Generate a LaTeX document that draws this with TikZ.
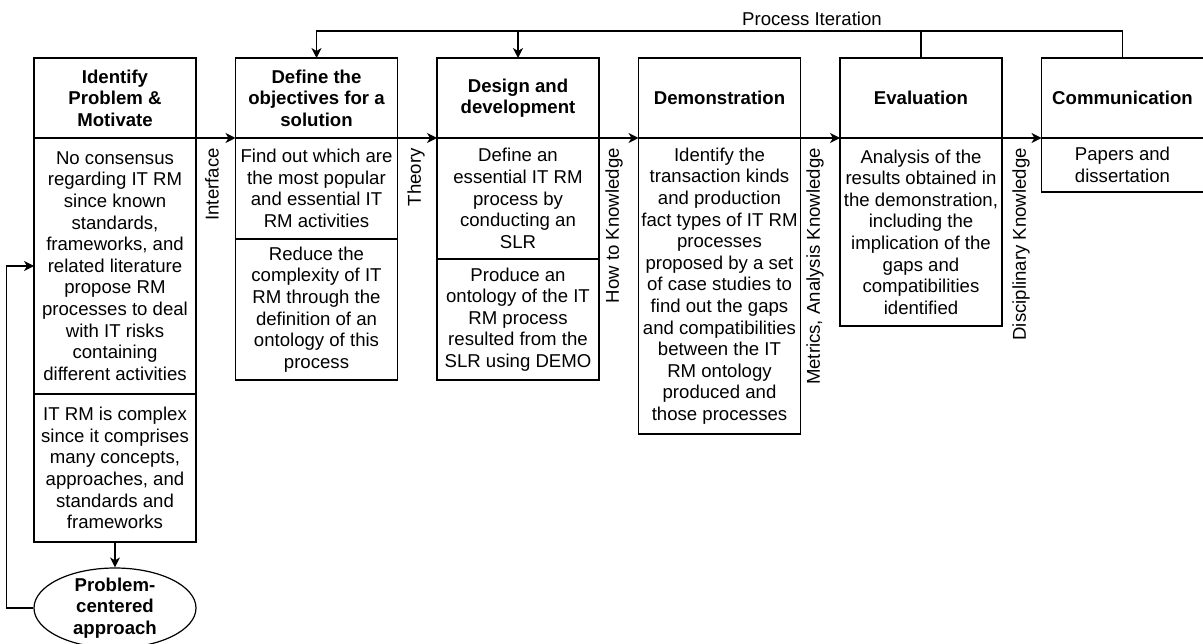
\documentclass[tikz,border=0pt]{standalone}
\usepackage{fontspec}
\setmainfont{Liberation Sans}
\usetikzlibrary{positioning,shapes.geometric,arrows.meta}

\begin{document}
\begin{tikzpicture}[x=1pt, y=-1pt, node distance=0pt and 39.5pt,
    box/.style={draw, rectangle, line width=1.2pt, minimum width=162pt, inner sep=0pt, outer sep=0pt, align=center, font=\fontsize{18.6}{21.6}\selectfont},
    head/.style={box, minimum height=80pt, font=\fontsize{18.6}{21.6}\selectfont\bfseries},
    vlabel/.style={rotate=90, anchor=east, inner sep=0pt, font=\fontsize{18.6}{21.6}\selectfont},
    arr/.style={-{Stealth[length=10pt, width=10pt, inset=3pt]}, line width=1.2pt}]
    \useasboundingbox (0,0) rectangle (1203,644);

    % headers
    \node[head] (identify) at (115,98) {Identify\\Problem \&\\Motivate};
    \node[head, right=of identify] (objectives) {Define the\\objectives for a\\solution};
    \node[head, right=of objectives] (design) {Design and\\development};
    \node[head, right=of design] (demonstration) {Demonstration};
    \node[head, right=of demonstration] (evaluation) {Evaluation};
    \node[head, right=of evaluation] (communication) {Communication};

    % activities
    \node[box, minimum height=256pt, below=of identify] (identifyA) {No consensus\\regarding IT RM\\since known\\standards,\\frameworks, and\\related literature\\propose RM\\processes to deal\\with IT risks\\containing\\different activities};
    \node[box, minimum height=148pt, below=of identifyA] (identifyB) {IT RM is complex\\since it comprises\\many concepts,\\approaches, and\\standards and\\frameworks};
    \node[box, minimum height=101pt, below=of objectives] (objectivesA) {Find out which are\\the most popular\\and essential IT\\RM activities};
    \node[box, minimum height=141pt, below=of objectivesA] (objectivesB) {Reduce the\\complexity of IT\\RM through the\\definition of an\\ontology of this\\process};
    \node[box, minimum height=121pt, below=of design] (designA) {Define an\\essential IT RM\\process by\\conducting an\\SLR};
    \node[box, minimum height=121pt, below=of designA] (designB) {Produce an\\ontology of the IT\\RM process\\resulted from the\\SLR using DEMO};
    \node[box, minimum height=296pt, below=of demonstration] (demonstrationA) {Identify the\\transaction kinds\\and production\\fact types of IT RM\\processes\\proposed by a set\\of case studies to\\find out the gaps\\and compatibilities\\between the IT\\RM ontology\\produced and\\those processes};
    \node[box, minimum height=188pt, below=of evaluation] (evaluationA) {Analysis of the\\results obtained in\\the demonstration,\\including the\\implication of the\\gaps and\\compatibilities\\identified};
    \node[box, minimum height=54pt, below=of communication] (communicationA) {Papers and\\dissertation};

    \node[draw, ellipse, line width=1.2pt, minimum width=162pt, minimum height=80pt, inner xsep=0pt, inner ysep=-6pt, align=center, font=\fontsize{18.6}{21.6}\selectfont\bfseries] (approach) at (115,608) {Problem-\\centered\\approach};

    % knowledge labels
    \node[vlabel] (interface) at (212,148) {Interface};
    \node[vlabel] (theory) at (416,148) {Theory};
    \node[vlabel] (howto) at (614,148) {How to Knowledge};
    \node[vlabel] (metrics) at (815,148) {Metrics, Analysis Knowledge};
    \node[vlabel] (disciplinary) at (1021,148) {Disciplinary Knowledge};

    \draw[arr] (identify.south east) -- (objectives.south west);
    \draw[arr] (objectives.south east) -- (design.south west);
    \draw[arr] (design.south east) -- (demonstration.south west);
    \draw[arr] (demonstration.south east) -- (evaluation.south west);
    \draw[arr] (evaluation.south east) -- (communication.south west);

    \draw[arr] (identifyB.south) -- (approach.north);
    \draw[arr] (approach.west) -- ++(-27,0) |- (identifyA.west);

    % process iteration
    \draw[arr] (communication.north) -- ++(0,-27) coordinate (iter) -| (objectives.north);
    \draw[line width=1.2pt] (evaluation.north) -- (evaluation.north |- iter);
    \draw[arr] (design.north |- iter) -- (design.north);
    \node[font=\fontsize{18.6}{21.6}\selectfont] (iteration) at (812,19) {Process Iteration};
\end{tikzpicture}
\end{document}
